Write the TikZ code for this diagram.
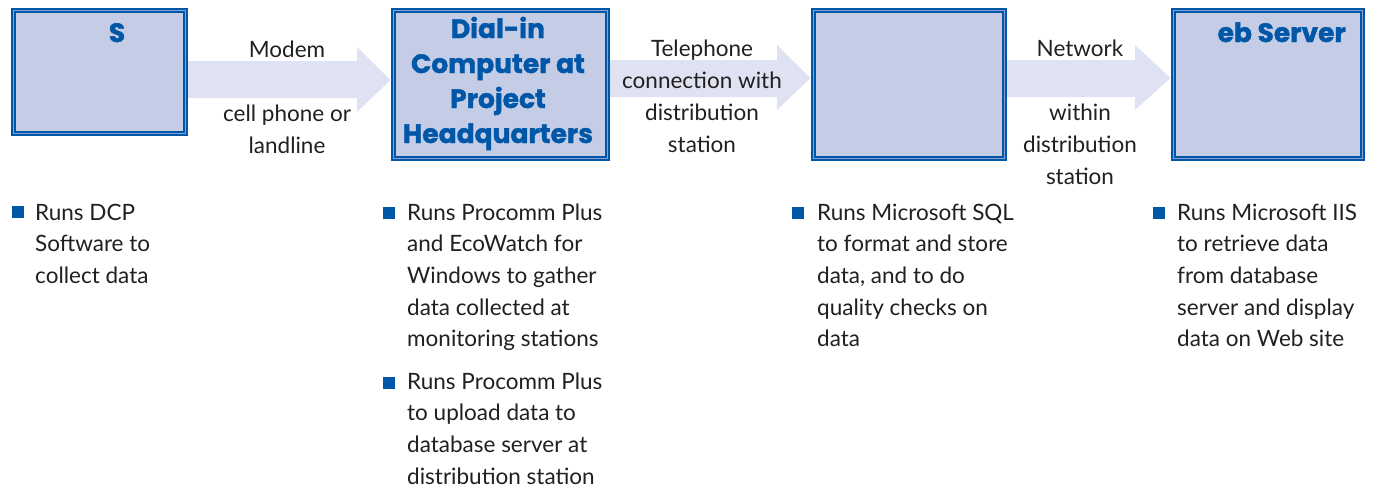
\documentclass[tikz,border=0pt]{standalone}
\usepackage{fontspec}
\setmainfont{Lato}
\newfontfamily\headfont{Poppins}[BoldFeatures={FakeBold=1.5}]
\usetikzlibrary{calc}
\definecolor{RimBlue}{RGB}{ 0, 87, 168}
\definecolor{RimLight}{RGB}{ 140, 158, 210}
\definecolor{BoxFill}{RGB}{ 197, 205, 230}
\definecolor{FlowFill}{RGB}{ 222, 226, 242}
\definecolor{InkGrey}{RGB}{ 35, 31, 32}

\begin{document}
\begin{tikzpicture}[x=1pt, y=-1pt]
      \tikzstyle{stage}=[draw=RimBlue, line width=5.5pt, fill=BoxFill, inner sep=0pt, anchor=north west];
      \tikzstyle{rim}=[draw=RimLight, line width=.6pt];
      \tikzstyle{title}=[text=RimBlue, inner sep=0pt, align=center, anchor=base, font=\headfont\bfseries\fontsize{26.5}{35}\selectfont];
      \tikzstyle{via}=[text=InkGrey, inner sep=0pt, align=center, anchor=base, font=\fontsize{22.5}{32}\selectfont];
      \tikzstyle{notes}=[text=InkGrey, inner sep=0pt, align=left, anchor=base west, font=\fontsize{22.5}{31.7}\selectfont];
      \tikzstyle{bullet}=[fill=RimBlue, minimum size=12pt, inner sep=0pt, anchor=north west];
      \tikzstyle{flow}=[fill=FlowFill];

      \pgfdeclarelayer{background}
      \pgfsetlayers{background,main}

      \useasboundingbox (0,0) rectangle (1379,488);

      % the four stations
      \node[stage, minimum width=172pt, minimum height=123pt] (dcp) at (10.5,7.5) {};
      \node[stage, minimum width=214pt, minimum height=148pt] (hq) at (390.5,7.5) {};
      \node[stage, minimum width=191pt, minimum height=148pt] (db) at (810.5,7.5) {};
      \node[stage, minimum width=189pt, minimum height=148pt] (web) at (1170.5,7.5) {};
      \foreach \n in {dcp,hq,db,web}
        \draw[rim] ([shift={(3.2,3.2)}]\n.north west) rectangle ([shift={(-3.2,-3.2)}]\n.south east);

      % multi-line texts sit on the baseline of their last line
      \node[title] (dcp-t) at (117,42) {S};
      \node[title] (hq-t) at (498,143) {Dial-in\\Computer at\\Project\\Headquarters};
      \node[title, anchor=base east] (web-t) at (1346,42) {eb Server};

      % links between stations
      \begin{pgfonlayer}{background}
        \fill[flow] (dcp.east |- 0,61) -- (357,61) -- (357,47) -- (hq.west |- 0,80)
          -- (357,112) -- (357,98) -- (dcp.east |- 0,98) -- cycle;
        \fill[flow] (hq.east |- 0,60) -- (777,60) -- (777,45) -- (db.west |- 0,78)
          -- (777,110) -- (777,97) -- (hq.east |- 0,97) -- cycle;
        \fill[flow] (db.east |- 0,60) -- (1135,60) -- (1135,45) -- (web.west |- 0,78)
          -- (1135,110) -- (1135,97) -- (db.east |- 0,97) -- cycle;
      \end{pgfonlayer}

      \node[via] (modem) at (287,57) {Modem};
      \node[via] (cell) at (287,153) {cell phone or\\landline};
      \node[via] (phone) at (702,152) {Telephone\\connection with\\distribution\\station};
      \node[via] (net) at (1080,56) {Network};
      \node[via] (lan) at (1080,184) {within\\distribution\\station};

      % what runs on each station
      \node[bullet] (b1) at (12,206) {};
      \node[notes] (dcp-n) at (35,283.4) {Runs DCP\\Software to\\collect data};
      \node[bullet] (b2) at (383,207) {};
      \node[notes] (hq-n) at (407,346.8) {Runs Procomm Plus\\and EcoWatch for\\Windows to gather\\data collected at\\monitoring stations};
      \node[bullet] (b3) at (383,377) {};
      \node[notes] (hq-m) at (407,484.1) {Runs Procomm Plus\\to upload data to\\database server at\\distribution station};
      \node[bullet] (b4) at (792,207) {};
      \node[notes] (db-n) at (817,346.8) {Runs Microsoft SQL\\to format and store\\data, and to do\\quality checks on\\data};
      \node[bullet] (b5) at (1153,207) {};
      \node[notes] (web-n) at (1177,346.8) {Runs Microsoft IIS\\to retrieve data\\from database\\server and display\\data on Web site};
\end{tikzpicture}
\end{document}
